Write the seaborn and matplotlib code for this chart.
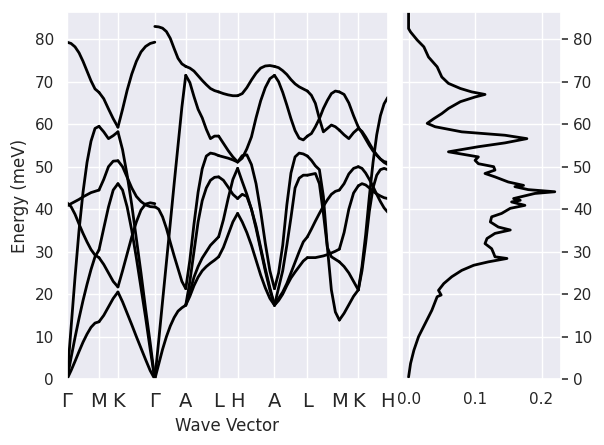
import numpy as np
import pandas as pd
import matplotlib
matplotlib.use("Agg")
import matplotlib.pyplot as plt
import seaborn as sns

# high-symmetry path (cumulative k distance) and labels
KPOINTS = [0, 0.565, 0.900, 1.552, 2.099, 2.681, 3.016, 3.668, 4.250, 4.815, 5.150, 5.671]
KLABELS = ['Γ', 'M', 'K', 'Γ', 'A', 'L', 'H', 'A', 'L', 'M', 'K', 'H']

# phonon branches per path segment (meV), sampled evenly along each segment
seg_GM = {
    'T1': [79.3, 79.0, 78.2, 76.8, 74.8, 72.5, 70.2, 68.3, 67.5],
    'A3': [0, 12, 24, 35, 44, 51, 56, 59, 59.5],
    'A2': [0, 5, 9.8, 14.3, 18.5, 22.3, 25.8, 28.8, 30.4],
    'A1': [0, 2, 4.2, 6.5, 8.7, 10.6, 12.2, 13.2, 13.5],
    'O1': [41.5, 40.6, 38.8, 36.5, 34.3, 32.3, 30.5, 29.2, 28.6],
    'O2': [40.8, 41.3, 41.8, 42.3, 42.9, 43.4, 43.9, 44.2, 44.5],
}
seg_MK = {
    'T1': [67.5, 66.0, 63.6, 61.3, 59.3],
    'A3': [59.5, 58.2, 56.6, 57.3, 58.2],
    'A2': [30.4, 35.5, 40.5, 44.5, 46],
    'A1': [13.5, 15, 17, 19, 20.5],
    'O1': [28.6, 27, 25, 23, 21.7],
    'O2': [44.5, 47, 50, 51.3, 51.4],
}
seg_KG = {
    'T1': [59.3, 63.5, 68, 71.8, 74.8, 77, 78.3, 79, 79.3],
    'A3': [58.2, 54, 48, 41, 33, 25, 16.5, 8.5, 0],
    'A2': [46, 44.5, 40.5, 35, 28.5, 21.5, 14.5, 7, 0],
    'A1': [20.5, 18.2, 15.5, 12.8, 10, 7.3, 4.6, 2, 0],
    'O1': [21.7, 25.5, 29.5, 33.5, 37, 39.8, 41.2, 41.5, 41.3],
    'O2': [51.4, 50, 47.5, 45, 43, 41.8, 41, 40.6, 40.5],
}
seg_GA = {
    'T2': [83, 82.9, 82.6, 81.8, 80.2, 77.8, 75.5, 74.2, 73.6],
    'LA': [0, 9, 18.3, 27.5, 36.7, 46, 55, 64, 71.5],
    'TA': [0, 3.5, 7, 10, 12.5, 14.5, 16, 16.8, 17.4],
    'O3': [40.6, 40, 38.2, 35.5, 32.2, 29, 26, 23, 21.3],
}
seg_AL = {
    'T2': [73.6, 73.2, 72.5, 71.4, 70.3, 69.3, 68.4, 67.9, 67.6],
    'T3': [71.5, 69.8, 66.5, 63.5, 61.5, 58.8, 56.6, 57.2, 57.2],
    'c1': [21.3, 28, 36.5, 44, 49.5, 52.5, 53.2, 53, 52.6],
    'c2': [17.4, 23, 30, 37, 42, 45, 46.8, 47.5, 47.6],
    'c3': [17.4, 20.5, 24, 26.5, 28.5, 30, 31.5, 32.5, 33.5],
    'c4': [17.4, 19.5, 22, 24, 25.5, 26.5, 27.3, 28, 28.8],
}
seg_LH = {
    'T2': [67.6, 67.2, 66.9, 66.7, 66.7],
    'T3': [57.2, 55.5, 53.8, 52.3, 51.1],
    'c1': [52.6, 52.3, 52, 51.6, 51.1],
    'c2': [47.6, 46.8, 45.2, 43.5, 42.5],
    'c3': [33.5, 37.5, 42.5, 47, 49.6],
    'c4': [28.8, 31, 34, 37, 39],
}
seg_HA = {
    'T2': [66.7, 67.2, 68.6, 70.4, 72, 73.2, 73.7, 73.8, 73.6],
    'T3': [51.1, 52.0, 54.2, 57, 61.5, 65.5, 68.6, 70.7, 71.5],
    'c1': [51.1, 52.6, 52.8, 50.5, 46, 39.5, 32, 25.5, 21.3],
    'c3': [49.6, 46.5, 43.5, 40, 35.5, 30.5, 25.5, 21, 17.4],
    'c2': [42.5, 43.5, 43, 40, 36, 31, 26, 21.5, 17.4],
    'c4': [39, 37, 34.5, 31.5, 28, 24.5, 21.5, 19, 17.4],
}
seg_AL2 = {
    'T2': [73.6, 73.3, 72.6, 71.7, 70.5, 69.5, 68.8, 68.3, 67.8],
    'T3': [71.5, 70, 67.5, 64.5, 61.3, 58.5, 56.7, 56.3, 57.2],
    'e1': [21.3, 25, 31.5, 41, 48.5, 52.3, 53.2, 53, 52.5],
    'e2': [17.4, 21.5, 25.5, 31.5, 38, 45, 47.3, 48, 48],
    'e3': [17.4, 19, 20.5, 22.5, 25, 27.5, 30, 32.3, 33.5],
    'e4': [17.4, 18.5, 20, 22, 23.8, 25.2, 26.5, 27.8, 28.6],
}
seg_LM = {
    'T2': [67.8, 66.8, 64.9, 61.3, 58.2, 59, 59.8, 59.4, 58.6],
    'T3': [57.2, 57.8, 59.4, 61.3, 63.7, 65.6, 67.2, 67.8, 67.6],
    'e1': [52.5, 51.5, 50.2, 49.3, 43, 31, 21, 15.8, 13.9],
    'e2': [48, 48.2, 48.4, 46, 39, 31, 28.8, 28.2, 27.6],
    'e3': [33.5, 35.3, 37.2, 39, 40.7, 42.2, 43.5, 44.2, 44.5],
    'e4': [28.6, 28.6, 28.6, 28.8, 29, 29.3, 29.7, 30.1, 30.6],
}
seg_MK2 = {
    'T3': [67.6, 67, 65, 62, 59.3],
    'T2': [58.6, 57.5, 56.6, 58, 59],
    'e1': [13.9, 15.5, 17.5, 19.5, 21],
    'e2': [27.6, 26.5, 25, 23, 21],
    'e3': [44.5, 46, 48.3, 49.6, 50],
    'e4': [30.6, 34.5, 40, 43.8, 45.5],
}
seg_KH = {
    'T3': [59.3, 58, 56.5, 55, 53.7, 52.7, 51.8, 51.2, 51],
    'T2': [59, 58.3, 57, 55.5, 54, 52.8, 51.8, 51, 50.5],
    'e1': [21, 26.5, 34, 43, 51, 57.5, 62, 64.8, 66.3],
    'e2': [21, 25.5, 32, 39.5, 45, 48, 49.3, 49.6, 49.3],
    'e3': [50, 49.6, 48.5, 47, 45.3, 43.5, 41.8, 40.3, 39.3],
    'e4': [45.5, 46, 45.7, 45, 44.2, 43.6, 43.1, 42.7, 42.5],
}
SEGMENTS = [seg_GM, seg_MK, seg_KG, seg_GA, seg_AL, seg_LH,
            seg_HA, seg_AL2, seg_LM, seg_MK2, seg_KH]

# phonon density of states (energy, DOS)
DOS_E = [0.5, 3.7, 6.8, 10, 13.1, 16.2, 19.4, 19.8, 20.9, 22.5, 24.1, 25.6, 26.8, 27.6,
         28.4, 28.8, 29.6, 30.7, 31.9, 33.1, 34.3, 35.1, 35.8, 37, 38.2, 39, 40.2, 40.9,
         41.7, 42.1, 42.5, 43.7, 44.1, 44.6, 45.3, 45.6, 46.4, 47.6, 48.4, 49.2, 50,
         50.7, 51.5, 52.3, 52.7, 53.5, 54.7, 55.6, 56.6, 57.4, 58.2, 59.4, 60.2, 61.3,
         62.5, 63.7, 65.3, 66.4, 67, 67.6, 68.4, 69.6, 71.1, 73.5, 75.8, 78.2, 79.8,
         81.7, 82.5, 86.8]
DOS_VAL = [0, 0.003, 0.008, 0.015, 0.025, 0.035, 0.043, 0.049, 0.045, 0.053, 0.065, 0.080,
           0.098, 0.12, 0.148, 0.13, 0.128, 0.125, 0.115, 0.118, 0.13, 0.153, 0.135, 0.123,
           0.125, 0.14, 0.153, 0.175, 0.155, 0.168, 0.158, 0.19, 0.22, 0.18, 0.16, 0.173,
           0.15, 0.13, 0.115, 0.13, 0.128, 0.105, 0.10, 0.105, 0.09, 0.06, 0.105, 0.145,
           0.178, 0.145, 0.08, 0.04, 0.028, 0.038, 0.05, 0.06, 0.078, 0.10, 0.115, 0.095,
           0.078, 0.06, 0.05, 0.043, 0.03, 0.023, 0.013, 0.003, 0, 0]

rows = []
for i, seg in enumerate(SEGMENTS):
    for name, energies in seg.items():
        ks = np.linspace(KPOINTS[i], KPOINTS[i + 1], len(energies))
        for k, e in zip(ks, energies):
            rows.append({'curve': f'{i}-{name}', 'k': k, 'E': e})
df_bands = pd.DataFrame(rows)

sns.set_theme(style="darkgrid")
fig = plt.figure(figsize=(6.04, 4.45), dpi=100)
ax1 = fig.add_axes([0.111, 0.148, 0.531, 0.825])
ax2 = fig.add_axes([0.666, 0.148, 0.263, 0.825])

sns.lineplot(data=df_bands, x='k', y='E', units='curve', estimator=None,
             color='black', linewidth=2, ax=ax1, legend=False)
ax1.set_xlim(KPOINTS[0], KPOINTS[-1])
ax1.set_ylim(0, 86.4)
ax1.set_xticks(KPOINTS)
ax1.set_xticklabels(KLABELS, fontsize=14)
ax1.set_xlabel('Wave Vector')
ax1.set_ylabel('Energy (meV)')

sns.lineplot(x=DOS_VAL, y=DOS_E, sort=False, estimator=None,
             color='black', linewidth=2, ax=ax2)
ax2.set_xlim(-0.0095, 0.2295)
ax2.set_ylim(0, 86.4)
ax2.set_xticks([0.0, 0.1, 0.2])
ax2.set_xticklabels(['0.0', '0.1', '0.2'])
ax2.set_yticks(range(0, 90, 10))
ax2.yaxis.tick_right()
ax2.tick_params(axis='y', right=True, length=5, width=1.2, color='#333333')

fig.savefig('out.png', dpi=100)
